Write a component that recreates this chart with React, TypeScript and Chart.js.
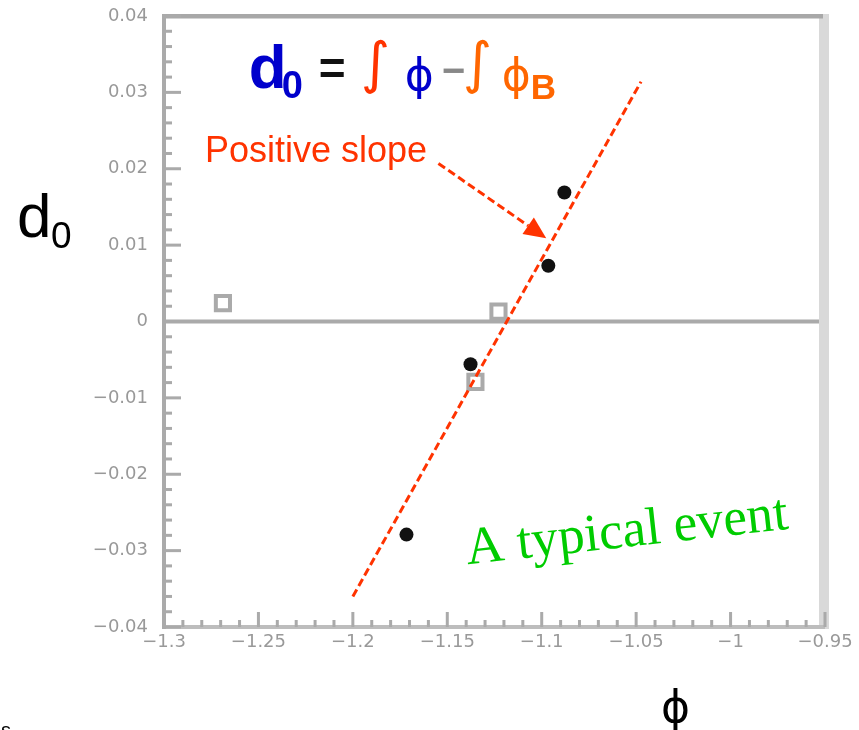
import { useEffect, useRef } from "react";
import { Chart, registerables } from "chart.js";

Chart.register(...registerables);

// axis ticks
const xTicks = [-1.3, -1.25, -1.2, -1.15, -1.1, -1.05, -1, -0.95];
const yTicks = [-0.04, -0.03, -0.02, -0.01, 0, 0.01, 0.02, 0.03, 0.04];

// filled (black) points
const filledX = [-1.1716, -1.1377, -1.0965, -1.088];
const filledY = [-0.0279, -0.0056, 0.0073, 0.0169];

// open (grey) squares
const openX = [-1.2688, -1.1229, -1.1351];
const openY = [0.0024, 0.0013, -0.0079];

// fitted straight line (end points)
const fitX = [-1.2, -1.0474];
const fitY = [-0.036, 0.0314];

// arrow from label to the line
const arrowX = [-1.1547, -1.0976];
const arrowY = [0.0207, 0.0109];

// annotation anchors (data coords)
const slopeLabel = { text: "Positive slope", x: -1.2783, y: 0.0209 };
const eventLabel = { text: "A typical event", x: -1.1393, y: -0.0318 };
const formulaAnchor = { x: -1.254, y: 0.0306 };

const RED = "#ff3300";
const ORANGE = "#ff6600";
const BLUE = "#0000cc";
const GREEN = "#00cc00";
const AXIS = "#aaaaaa";

function fmt(v: number): string {
  const r = Math.round(v * 1000) / 1000;
  if (r === 0) return "0";
  return (r < 0 ? "\u2212" : "") + String(Math.abs(r));
}

export default function App() {
  const ref = useRef<HTMLCanvasElement>(null);

  useEffect(() => {
    document.body.style.margin = "0";
    const canvas = ref.current!;

    const framePlugin = {
      id: "frame",
      beforeDatasetsDraw(chart: any) {
        const { ctx, chartArea: a, scales } = chart;
        const xs = scales.x;
        const ys = scales.y;
        ctx.save();
        // right light band
        ctx.fillStyle = "#d9d9d9";
        ctx.fillRect(a.right - 6, a.top - 2, 10, a.bottom - a.top + 4);
        // top line
        ctx.fillStyle = "#a8a8a8";
        ctx.fillRect(a.left - 2, a.top - 2, a.right - a.left, 4.5);
        // zero line
        const y0 = ys.getPixelForValue(0);
        ctx.fillStyle = AXIS;
        ctx.fillRect(a.left, y0 - 2, a.right - a.left - 6, 4);
        // bottom axis
        ctx.fillStyle = "#bdbdbd";
        ctx.fillRect(a.left - 2, a.bottom - 2, a.right - a.left + 2, 4);
        // left axis
        ctx.fillStyle = AXIS;
        ctx.fillRect(a.left - 2, a.top - 2, 4, a.bottom - a.top + 4);

        // y ticks (inward)
        ctx.fillStyle = AXIS;
        for (let i = 0; i < yTicks.length; i++) {
          const py = ys.getPixelForValue(yTicks[i]);
          ctx.fillRect(a.left, py - 1.5, 17, 3);
          if (i < yTicks.length - 1) {
            const step = (yTicks[i + 1] - yTicks[i]) / 5;
            for (let k = 1; k < 5; k++) {
              const pm = ys.getPixelForValue(yTicks[i] + k * step);
              ctx.fillRect(a.left, pm - 1.5, 8, 3);
            }
          }
        }
        // x ticks (inward)
        for (let i = 0; i < xTicks.length; i++) {
          const px = xs.getPixelForValue(xTicks[i]);
          ctx.fillRect(px - 1.5, a.bottom - 15, 3, 15);
          if (i < xTicks.length - 1) {
            const step = (xTicks[i + 1] - xTicks[i]) / 5;
            for (let k = 1; k < 5; k++) {
              const pm = xs.getPixelForValue(xTicks[i] + k * step);
              ctx.fillRect(pm - 1.5, a.bottom - 7, 3, 7);
            }
          }
        }
        ctx.restore();
      },
      afterDatasetsDraw(chart: any) {
        const { ctx, scales } = chart;
        const xs = scales.x;
        const ys = scales.y;
        ctx.save();

        // arrow
        const x1 = xs.getPixelForValue(arrowX[0]);
        const y1 = ys.getPixelForValue(arrowY[0]);
        const x2 = xs.getPixelForValue(arrowX[1]);
        const y2 = ys.getPixelForValue(arrowY[1]);
        const ang = Math.atan2(y2 - y1, x2 - x1);
        const headLen = 22;
        const headHalf = 10;
        const bx = x2 - headLen * Math.cos(ang);
        const by = y2 - headLen * Math.sin(ang);
        ctx.strokeStyle = RED;
        ctx.lineWidth = 3;
        ctx.setLineDash([8, 4]);
        ctx.beginPath();
        ctx.moveTo(x1, y1);
        ctx.lineTo(bx, by);
        ctx.stroke();
        ctx.setLineDash([]);
        ctx.fillStyle = RED;
        ctx.beginPath();
        ctx.moveTo(x2, y2);
        ctx.lineTo(bx + headHalf * Math.sin(ang), by - headHalf * Math.cos(ang));
        ctx.lineTo(bx - headHalf * Math.sin(ang), by + headHalf * Math.cos(ang));
        ctx.closePath();
        ctx.fill();

        // Positive slope
        ctx.fillStyle = RED;
        ctx.font = '36px "Liberation Sans"';
        ctx.textBaseline = "alphabetic";
        ctx.textAlign = "left";
        ctx.fillText(
          slopeLabel.text,
          xs.getPixelForValue(slopeLabel.x),
          ys.getPixelForValue(slopeLabel.y)
        );

        // A typical event (rotated)
        ctx.save();
        ctx.translate(xs.getPixelForValue(eventLabel.x), ys.getPixelForValue(eventLabel.y));
        ctx.rotate((-6.3 * Math.PI) / 180);
        ctx.fillStyle = GREEN;
        ctx.font = '53px "Liberation Serif"';
        ctx.fillText(eventLabel.text, 0, 0);
        ctx.restore();

        // formula d0 = ∫ϕ - ∫ϕB
        const fx = xs.getPixelForValue(formulaAnchor.x);
        const fy = ys.getPixelForValue(formulaAnchor.y);
        const piece = (t: string, dx: number, dy: number, font: string, color: string) => {
          ctx.font = font;
          ctx.fillStyle = color;
          ctx.fillText(t, fx + dx, fy + dy);
        };
        piece("d", -2, 0, 'bold 62px "Liberation Sans"', BLUE);
        piece("0", 31, 10, 'bold 38px "Liberation Sans"', BLUE);
        piece("=", 68, -4, 'bold 46px "Liberation Sans"', "#111111");
        piece("\u222B", 110, -6, 'italic 56px "DejaVu Sans"', RED);
        piece("\u03D5", 154, 2, '44px "DejaVu Sans"', BLUE);
        piece("\u2212", 191, -4, 'bold 40px "Liberation Sans"', "#888888");
        piece("\u222B", 212, -6, 'italic 56px "DejaVu Sans"', ORANGE);
        piece("\u03D5", 251, 2, '44px "DejaVu Sans"', ORANGE);
        piece("B", 280, 11, 'bold 35px "Liberation Sans"', ORANGE);

        ctx.restore();
      },
      afterDraw(chart: any) {
        const { ctx } = chart;
        ctx.save();
        ctx.fillStyle = "#000000";
        ctx.textAlign = "left";
        ctx.textBaseline = "alphabetic";
        // y axis title d0
        ctx.font = '62px "Liberation Sans"';
        ctx.fillText("d", 17, 237);
        ctx.font = '37px "Liberation Sans"';
        ctx.fillText("0", 51, 248);
        // x axis title phi
        ctx.font = '44px "DejaVu Sans"';
        ctx.fillText("\u03D5", 661, 722);
        // stray s
        ctx.font = '20px "Liberation Sans"';
        ctx.fillText("s", 1, 737);
        ctx.restore();
      },
    };

    const chart = new Chart(canvas, {
      type: "scatter",
      data: {
        datasets: [
          {
            label: "filled",
            data: filledX.map((x, i) => ({ x, y: filledY[i] })),
            pointStyle: "circle",
            pointRadius: 7,
            backgroundColor: "#111111",
            borderColor: "#111111",
            borderWidth: 0,
          },
          {
            label: "fit",
            data: fitX.map((x, i) => ({ x, y: fitY[i] })),
            showLine: true,
            pointRadius: 0,
            borderColor: RED,
            borderWidth: 3,
            borderDash: [8, 4],
            fill: false,
          },
          {
            label: "open",
            data: openX.map((x, i) => ({ x, y: openY[i] })),
            pointStyle: "rect",
            pointRadius: 10,
            backgroundColor: "#ffffff",
            borderColor: "#aaaaaa",
            borderWidth: 4,
          },
        ],
      },
      options: {
        responsive: false,
        animation: false,
        devicePixelRatio: 1,
        layout: { padding: { left: 0, top: 16, right: 34, bottom: 0 } },
        plugins: {
          legend: { display: false },
          tooltip: { enabled: false },
          title: { display: false },
        },
        scales: {
          x: {
            type: "linear",
            min: -1.3,
            max: -0.95,
            grid: { display: false, drawTicks: false },
            border: { display: false },
            afterBuildTicks: (s: any) => {
              s.ticks = xTicks.map((v) => ({ value: v }));
            },
            afterFit: (s: any) => {
              s.height = 103;
              s.paddingLeft = 0;
              s.paddingRight = 0;
            },
            ticks: {
              callback: (v: any) => fmt(Number(v)),
              color: "#999999",
              font: { family: "DejaVu Sans", size: 18 },
              padding: 5,
              maxRotation: 0,
              autoSkip: false,
            },
          },
          y: {
            type: "linear",
            min: -0.04,
            max: 0.04,
            grid: { display: false, drawTicks: false },
            border: { display: false },
            afterBuildTicks: (s: any) => {
              s.ticks = yTicks.map((v) => ({ value: v }));
            },
            afterFit: (s: any) => {
              s.width = 164;
              s.paddingTop = 0;
              s.paddingBottom = 0;
            },
            ticks: {
              callback: (v: any) => fmt(Number(v)),
              color: "#999999",
              font: { family: "DejaVu Sans", size: 18 },
              padding: 16,
              autoSkip: false,
            },
          },
        },
      },
      plugins: [framePlugin],
    });

    return () => chart.destroy();
  }, []);

  return (
    <div style={{ width: 859, height: 730, position: "relative", background: "#ffffff" }}>
      <canvas ref={ref} width={859} height={730} style={{ display: "block" }} />
    </div>
  );
}
